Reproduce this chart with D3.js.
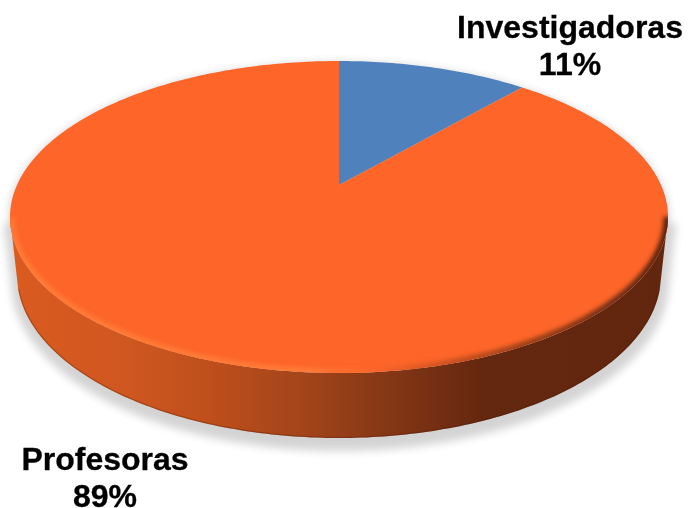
<!DOCTYPE html>
<html>
<head>
<meta charset="utf-8">
<script src="https://cdn.jsdelivr.net/npm/d3@7"></script>
<style>
	html, body { margin: 0; padding: 0; background: #fff; }
	svg { display: block; }
	text { font-family: "Liberation Sans", Arial, sans-serif; font-weight: bold; font-size: 32px; fill: #000; stroke: #000; stroke-width: 0.3px; text-anchor: middle; }
</style>
</head>
<body>
<div id="chart"></div>
<script>
// values (labels show them rounded)
const categories = ["Investigadoras", "Profesoras"];
const values = [0.114, 0.886];
const colors = ["#4f81bd", "#fd6529"];

const width = 690, height = 508;

// side wall shading, left to right
const sideOffsets = [0, 0.18, 0.3, 0.45, 0.6, 0.72, 1];
const sideColors = ["#da5b20", "#cf5720", "#bf4f1c", "#a2441a", "#7f3414", "#64270f", "#62260e"];
const rimColors = ["#ff7a34", "#ff7a38", "#fd6529", "#a8441a", "#5a2410"];
const rimOffsets = [0, 0.45, 0.55, 0.75, 1];

const top_ = {cx: 339, cy: 217, rx: 329, ry: 156};
const bottom = {cx: 339, cy: 275, rx: 322, ry: 163};

// perspective of the pie's disk: apex sits above the middle of the ellipse
const apex = {x: 339, y: 185};
const persp = 0.205;
const xScale = d3.scaleLinear().domain([-1, 1]).range([apex.x - 322, apex.x + 322]);
const yScale = d3.scaleLinear().domain([-1, 1]).range([apex.y + 149.4, apex.y - 149.4]);

function project(a) {
	const u = Math.sin(a), v = Math.cos(a), w = 1 + persp * v;
	return [xScale(u / w), yScale(v / w)];
}
function ellipsePoint(e, t) {
	return [e.cx + e.rx * Math.sin(t), e.cy - e.ry * Math.cos(t)];
}

const line = d3.line();
const pie = d3.pie().sort(null);
const arcs = pie(values);

function slicePath(d) {
	const n = Math.ceil((d.endAngle - d.startAngle) * 60);
	const pts = d3.range(n + 1).map(i => project(d.startAngle + (d.endAngle - d.startAngle) * i / n));
	return line([[apex.x, apex.y]].concat(pts)) + "Z";
}

const deg = Math.PI / 180;
const front = d3.range(90, 271).map(a => a * deg);
const frontBottom = d3.range(95, 266).map(a => a * deg);
const wall = front.map(t => ellipsePoint(top_, t)).concat(frontBottom.slice().reverse().map(t => ellipsePoint(bottom, t)));
const wallPath = line(wall) + "Z";
const rimPath = line(front.map(t => ellipsePoint(top_, t)));
const footPath = line(frontBottom.map(t => ellipsePoint(bottom, t)));

const svg = d3.select("#chart").append("svg").attr("width", width).attr("height", height);
const defs = svg.append("defs");

defs.append("filter").attr("id", "shadow").attr("x", "-10%").attr("y", "-10%").attr("width", "120%").attr("height", "120%")
	.append("feGaussianBlur").attr("stdDeviation", 4);
defs.append("filter").attr("id", "soft").attr("x", "-5%").attr("y", "-5%").attr("width", "110%").attr("height", "110%")
	.append("feGaussianBlur").attr("stdDeviation", 2);
defs.append("filter").attr("id", "textBlur").attr("x", "-5%").attr("y", "-5%").attr("width", "110%").attr("height", "110%")
	.append("feGaussianBlur").attr("stdDeviation", 0.6);

function gradient(id, offsets, cols) {
	defs.append("linearGradient").attr("id", id)
		.attr("gradientUnits", "userSpaceOnUse")
		.attr("x1", top_.cx - top_.rx).attr("x2", top_.cx + top_.rx).attr("y1", 0).attr("y2", 0)
		.selectAll("stop").data(offsets).enter().append("stop")
		.attr("offset", d => d)
		.attr("stop-color", (d, i) => cols[i]);
}
gradient("sideGrad", sideOffsets, sideColors);
gradient("rimGrad", rimOffsets, rimColors);

defs.append("clipPath").attr("id", "topClip").append("ellipse")
	.attr("cx", top_.cx).attr("cy", top_.cy).attr("rx", top_.rx).attr("ry", top_.ry);
defs.append("clipPath").attr("id", "wallClip").append("path").attr("d", wallPath);

// soft grey shadow, a bit wider than the disk and dropped down
const shadow = svg.append("g").attr("opacity", 0.17).attr("filter", "url(#shadow)");
shadow.append("path").attr("d", wallPath)
	.attr("transform", "translate(1,6)")
	.attr("fill", "#000").attr("stroke", "#000").attr("stroke-width", 14);
shadow.append("ellipse").attr("cx", top_.cx).attr("cy", top_.cy + 1).attr("rx", top_.rx + 1).attr("ry", top_.ry)
	.attr("fill", "#000");

svg.append("path").attr("class", "wall").attr("d", wallPath).attr("fill", "url(#sideGrad)");
// darker line at the foot of the wall
svg.append("g").attr("clip-path", "url(#wallClip)")
	.append("path").attr("d", footPath)
	.attr("fill", "none").attr("stroke", "#4a1c08").attr("stroke-opacity", 0.3).attr("stroke-width", 2.5);

svg.append("g").attr("class", "slices")
	.selectAll("path").data(arcs).enter().append("path")
	.attr("d", slicePath)
	.attr("fill", (d, i) => colors[i]);

// bevel along the front edge
svg.append("g").attr("clip-path", "url(#topClip)")
	.append("path").attr("d", rimPath)
	.attr("fill", "none").attr("stroke", "url(#rimGrad)").attr("stroke-width", 9)
	.attr("filter", "url(#soft)");

const pct = d3.format(".0%");
const labelPos = [{x: 570, y: 38}, {x: 105, y: 470}];
const labels = svg.append("g").attr("filter", "url(#textBlur)")
	.selectAll("text").data(categories).enter().append("text")
	.attr("x", (d, i) => labelPos[i].x)
	.attr("y", (d, i) => labelPos[i].y);
labels.append("tspan").text(d => d);
labels.append("tspan")
	.attr("x", (d, i) => labelPos[i].x)
	.attr("dy", 36.5)
	.text((d, i) => pct(values[i]));
</script>
</body>
</html>
